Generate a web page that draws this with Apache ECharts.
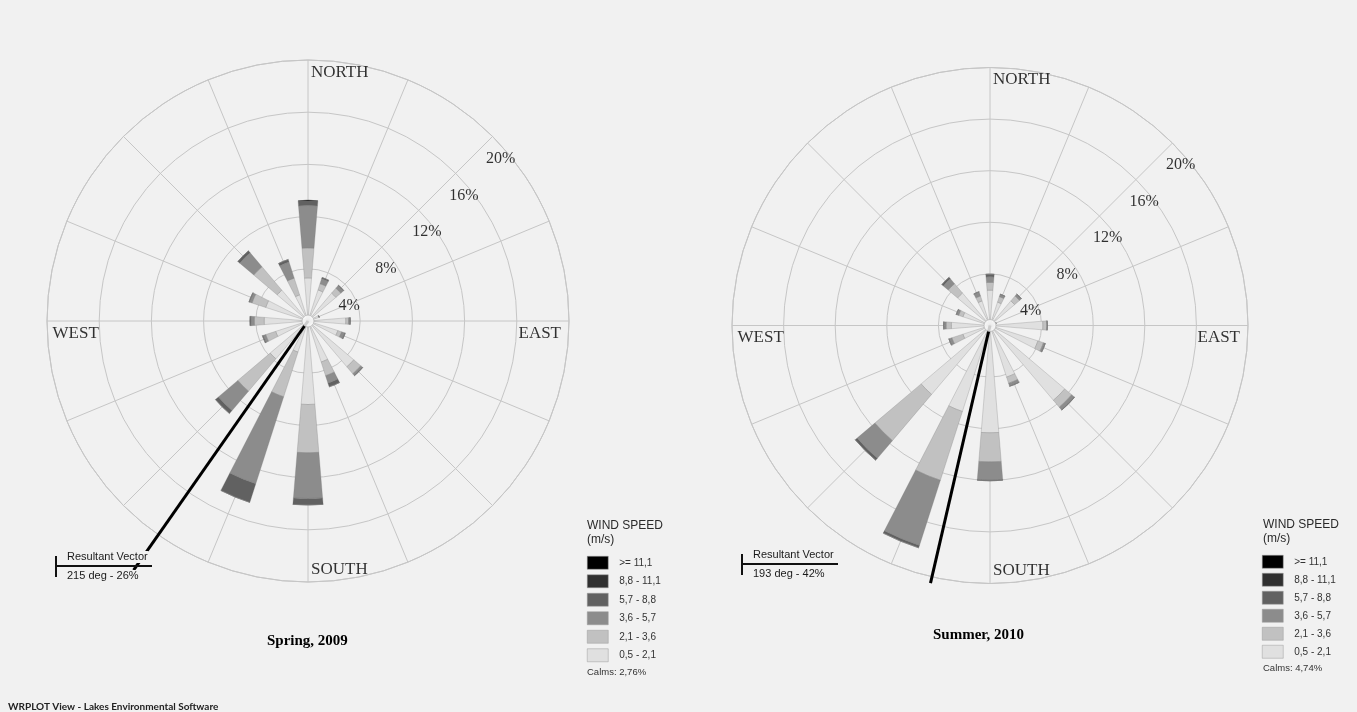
<!DOCTYPE html>
<html>
<head>
<meta charset="utf-8">
<title>Wind roses</title>
<script src="https://cdn.jsdelivr.net/npm/echarts@6/dist/echarts.min.js"></script>
<style>
  html, body { margin: 0; padding: 0; background: #f1f1f1; }
  #chart { width: 1357px; height: 712px; }
</style>
</head>
<body>
<div id="chart"></div>
<script>
// 16 compass sectors, clockwise from north
const directions = ['N','NNE','NE','ENE','E','ESE','SE','SSE','S','SSW','SW','WSW','W','WNW','NW','NNW'];

// Wind speed classes (m/s), lowest first (stack order from the centre outwards)
const speedClasses = ['0,5 - 2,1','2,1 - 3,6','3,6 - 5,7','5,7 - 8,8','8,8 - 11,1','>= 11,1'];
const speedColors  = ['#e0e0e0','#c1c1c1','#8c8c8c','#616161','#303030','#000000'];

// Frequency (%) per direction and speed class — Spring 2009
const spring_0_5 = [3.3, 2.5, 2.8, 0.9, 2.9, 2.4, 4.6, 3.3, 6.4, 2.5, 3.8, 2.6, 3.36, 3.4, 3.1, 2.1];
const spring_2_1 = [2.3, 0.5, 0.5, 0.0, 0.2, 0.3, 0.7, 1.1, 3.7, 3.6, 3.25, 0.8, 0.75, 1.1, 2.35, 1.35];
const spring_3_6 = [3.25, 0.4, 0.25, 0.0, 0.1, 0.25, 0.15, 0.6, 3.5, 7.0, 1.95, 0.2, 0.25, 0.2, 1.4, 1.3];
const spring_5_7 = [0.4, 0.1, 0.05, 0.0, 0.05, 0.05, 0.05, 0.3, 0.5, 1.5, 0.3, 0.07, 0.09, 0.05, 0.2, 0.2];
const spring_8_8 = [0, 0, 0, 0, 0, 0, 0, 0, 0, 0, 0, 0, 0, 0, 0, 0];
const spring_11  = [0, 0, 0, 0, 0, 0, 0, 0, 0, 0, 0, 0, 0, 0, 0, 0];

// Frequency (%) per direction and speed class — Summer 2010
const summer_0_5 = [2.74, 1.9, 2.5, 0.5, 4.1, 3.9, 7.6, 4.2, 8.32, 7.0, 7.0, 2.2, 3.0, 2.2, 3.3, 2.0];
const summer_2_1 = [0.6, 0.45, 0.5, 0.0, 0.3, 0.45, 0.7, 0.5, 2.25, 5.6, 4.7, 0.9, 0.4, 0.35, 0.95, 0.4];
const summer_3_6 = [0.44, 0.2, 0.2, 0.0, 0.05, 0.15, 0.25, 0.25, 1.4, 5.3, 1.8, 0.25, 0.2, 0.2, 0.5, 0.35];
const summer_5_7 = [0.2, 0, 0, 0, 0, 0, 0.05, 0, 0.07, 0.2, 0.2, 0, 0, 0, 0.15, 0];
const summer_8_8 = [0, 0, 0, 0, 0, 0, 0, 0, 0, 0, 0, 0, 0, 0, 0, 0];
const summer_11  = [0, 0, 0, 0, 0, 0, 0, 0, 0, 0, 0, 0, 0, 0, 0, 0];

// Ring ticks (%) and compass labels
const ringTicks = [4, 8, 12, 16, 20];
const compassLabels = ['NORTH', 'EAST', 'SOUTH', 'WEST'];
const compassAngles = [0, 90, 180, 270];

// Resultant vectors: direction (deg), stated frequency (%), drawn reach on the ring scale
const vectorDir   = [215, 193];
const vectorPct   = [26, 42];
const vectorReach = [23.3, 20.5];

// Calm frequencies (%)
const calms = ['2,76', '4,74'];
const panelTitles = ['Spring, 2009', 'Summer, 2010'];

const roses = [
  { classes: [spring_0_5, spring_2_1, spring_3_6, spring_5_7, spring_8_8, spring_11], center: [308, 321], radius: 261 },
  { classes: [summer_0_5, summer_2_1, summer_3_6, summer_5_7, summer_8_8, summer_11], center: [990, 325.5], radius: 258 }
];

const SERIF = '"Liberation Serif", "DejaVu Serif", serif';
const SANS = '"Liberation Sans", Arial, sans-serif';
const GRID = '#c6c6c6';
const INK = '#000';
const RING_MAX = 20;     // outer ring (%)
const VECTOR_MAX = 30;   // extended scale so the vector may run past the outer ring

const polar = [], angleAxis = [], radiusAxis = [], series = [];

const hiddenAxis = {
  axisLine: { show: false }, axisTick: { show: false },
  axisLabel: { show: false }, splitLine: { show: false }
};

roses.forEach((rose, i) => {
  const barIdx = i * 3, gridIdx = i * 3 + 1, vecIdx = i * 3 + 2;
  polar.push({ center: rose.center, radius: rose.radius });
  polar.push({ center: rose.center, radius: rose.radius });
  polar.push({ center: rose.center, radius: rose.radius * VECTOR_MAX / RING_MAX });

  // category axis for the wedges: each sector centred on its compass point
  angleAxis.push(Object.assign({
    polarIndex: barIdx, type: 'category', data: directions,
    startAngle: 90 + 360 / directions.length / 2, clockwise: true
  }, hiddenAxis));
  radiusAxis.push(Object.assign({ polarIndex: barIdx, type: 'value', min: 0, max: RING_MAX }, hiddenAxis));

  // value axes for spokes, rings and labels
  angleAxis.push({
    polarIndex: gridIdx, type: 'value', min: 0, max: 360, interval: 22.5,
    startAngle: 90, clockwise: true,
    axisLine: { show: true, lineStyle: { color: GRID, width: 1 } },
    axisTick: { show: false }, axisLabel: { show: false },
    splitLine: { show: true, lineStyle: { color: GRID, width: 1 } }
  });
  radiusAxis.push({
    polarIndex: gridIdx, type: 'value', min: 0, max: RING_MAX, interval: 4,
    axisLine: { show: false }, axisTick: { show: false }, axisLabel: { show: false },
    splitLine: { show: true, lineStyle: { color: GRID, width: 1 } }
  });

  // same scale, wider extent, for the resultant vector
  angleAxis.push(Object.assign({
    polarIndex: vecIdx, type: 'value', min: 0, max: 360, startAngle: 90, clockwise: true
  }, hiddenAxis));
  radiusAxis.push(Object.assign({ polarIndex: vecIdx, type: 'value', min: 0, max: VECTOR_MAX }, hiddenAxis));

  speedClasses.forEach((name, k) => {
    series.push({
      type: 'bar', name: name, coordinateSystem: 'polar', polarIndex: barIdx,
      stack: 'rose' + i, data: rose.classes[k], barWidth: '42%',
      itemStyle: { color: speedColors[k], borderColor: 'rgba(120,120,120,0.55)', borderWidth: 0.5 },
      z: 3, silent: true
    });
  });

  // resultant vector
  series.push({
    type: 'line', coordinateSystem: 'polar', polarIndex: vecIdx,
    data: [[0, vectorDir[i]], [vectorReach[i], vectorDir[i]]],
    symbol: 'none', clip: false, lineStyle: { color: '#000', width: 3 },
    z: 5, silent: true
  });

  // calm-centre disc
  series.push({
    type: 'scatter', coordinateSystem: 'polar', polarIndex: gridIdx,
    data: [[0, 0]], symbolSize: 12,
    itemStyle: { color: '#ffffff', borderColor: '#b8b8b8', borderWidth: 1 },
    z: 6, silent: true
  });

  // ring percentage labels along the NE spoke
  series.push({
    type: 'scatter', coordinateSystem: 'polar', polarIndex: gridIdx,
    data: ringTicks.map(v => [v, 45]), symbolSize: 1,
    itemStyle: { color: 'rgba(0,0,0,0)' },
    label: {
      show: true, position: 'inside', align: 'left', verticalAlign: 'middle',
      offset: [-6.5, 22], formatter: p => p.value[0] + '%',
      fontFamily: SERIF, fontSize: 16, color: INK, textBorderWidth: 0
    },
    z: 7, silent: true
  });

  // compass labels, tucked inside the outer ring
  const labelPlace = {
    NORTH: { align: 'left', offset: [3, 12.5] },
    EAST:  { align: 'right', offset: [-8, 12.5] },
    SOUTH: { align: 'left', offset: [3, -12.5] },
    WEST:  { align: 'left', offset: [5.5, 12.5] }
  };
  series.push({
    type: 'scatter', coordinateSystem: 'polar', polarIndex: gridIdx,
    symbolSize: 1, itemStyle: { color: 'rgba(0,0,0,0)' },
    data: compassLabels.map((t, j) => ({
      name: t, value: [RING_MAX, compassAngles[j]],
      label: labelPlace[t]
    })),
    label: {
      show: true, position: 'inside', verticalAlign: 'middle', formatter: '{b}',
      fontFamily: SERIF, fontSize: 17, color: INK, textBorderWidth: 0
    },
    z: 7, silent: true
  });
});

const legendOrder = speedClasses.slice().reverse();
const legendBase = {
  orient: 'vertical', icon: 'rect', itemWidth: 21, itemHeight: 13, itemGap: 5,
  selectedMode: false, data: legendOrder, padding: 0,
  itemStyle: { borderColor: '#9a9a9a', borderWidth: 0.5 },
  textStyle: { fontFamily: SANS, fontSize: 10, color: '#333', padding: [0, 0, 0, 6] }
};

function vectorNote(x0, yRule, i) {
  return [
    { type: 'line', z: 100, shape: { x1: x0, y1: yRule - 10, x2: x0, y2: yRule + 11 }, style: { stroke: '#111', lineWidth: 2 } },
    { type: 'text', z: 101, x: x0 + 10, y: yRule - 9, style: {
        text: 'Resultant Vector', font: '11px ' + SANS, fill: '#1a1a1a',
        verticalAlign: 'middle', backgroundColor: '#f1f1f1', padding: [1, 1, 0, 1] } },
    { type: 'text', z: 101, x: x0 + 10, y: yRule + 10, style: {
        text: vectorDir[i] + ' deg - ' + vectorPct[i] + '%', font: '11px ' + SANS, fill: '#1a1a1a',
        verticalAlign: 'middle', backgroundColor: '#f1f1f1', padding: [1, 1, 0, 1] } },
    { type: 'line', z: 102, shape: { x1: x0, y1: yRule, x2: x0 + 96, y2: yRule }, style: { stroke: '#111', lineWidth: 2 } }
  ];
}

function legendNotes(x0, yTop, yCalm, i) {
  return [
    { type: 'text', z: 100, x: x0, y: yTop, style: {
        text: 'WIND SPEED\n(m/s)', font: '12px ' + SANS, fill: '#2a2a2a', lineHeight: 14 } },
    { type: 'text', z: 100, x: x0, y: yCalm, style: {
        text: 'Calms: ' + calms[i] + '%', font: '9.5px ' + SANS, fill: '#333', verticalAlign: 'middle' } }
  ];
}

const option = {
  backgroundColor: '#f1f1f1',
  animation: false,
  title: [
    { text: panelTitles[0], left: 262, top: 629, textStyle: { fontFamily: SERIF, fontWeight: 'bold', fontSize: 15, color: '#000' } },
    { text: panelTitles[1], left: 928, top: 623, textStyle: { fontFamily: SERIF, fontWeight: 'bold', fontSize: 15, color: '#000' } }
  ],
  polar: polar,
  angleAxis: angleAxis,
  radiusAxis: radiusAxis,
  legend: [
    Object.assign({}, legendBase, { left: 587, top: 556 }),
    Object.assign({}, legendBase, { left: 1262, top: 555, itemGap: 4.5 })
  ],
  series: series,
  graphic: [].concat(
    vectorNote(56, 566, 0),
    vectorNote(742, 564, 1),
    legendNotes(587, 519, 672, 0),
    legendNotes(1263, 518, 668, 1),
    [{ type: 'text', z: 100, x: 8, y: 707, style: {
        text: 'WRPLOT View - Lakes Environmental Software', font: 'bold 10px Lato, "Open Sans", sans-serif',
        fill: '#222', verticalAlign: 'middle' } }]
  )
};

const chart = echarts.init(document.getElementById('chart'), null, { renderer: 'canvas' });
chart.setOption(option);
</script>
</body>
</html>
